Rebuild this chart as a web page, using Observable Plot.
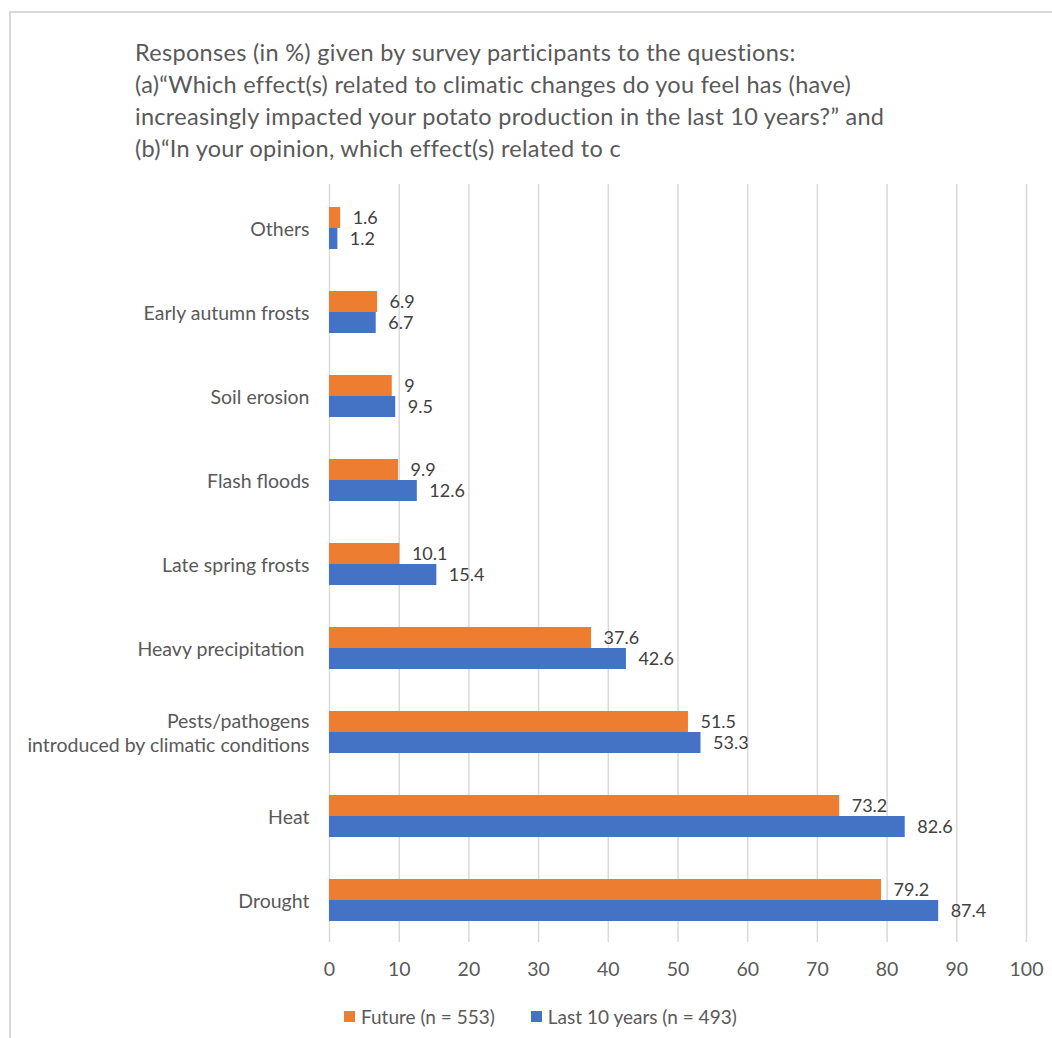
<!DOCTYPE html>
<html>
<head>
<meta charset="utf-8">
<script src="https://cdn.jsdelivr.net/npm/d3@7"></script>
<script src="https://cdn.jsdelivr.net/npm/@observablehq/plot@0.6"></script>
<style>
  html, body { margin: 0; padding: 0; background: #fff; }
  body { width: 1052px; height: 1038px; position: relative; overflow: hidden; font-family: Lato, "Open Sans", sans-serif; }
  #frame { position: absolute; left: 9px; top: 11px; width: 1100px; height: 1100px; border: 2px solid #d9d9d9; box-sizing: border-box; }
  #title { position: absolute; left: 135px; top: 36px; font-size: 23.5px; letter-spacing: 0.3px; line-height: 32px; color: #595959; white-space: pre; }
  #chart { position: absolute; left: 0; top: 170px; }
  #legend { position: absolute; left: 344px; top: 1005px; font-size: 19px; color: #595959; display: flex; gap: 36px; }
  #legend .item { display: flex; align-items: center; gap: 6px; }
  #legend .sw { width: 11px; height: 11px; display: inline-block; }
</style>
</head>
<body>
<div id="frame"></div>
<div id="title"></div>
<div id="chart"></div>
<div id="legend"></div>
<script>
const titleLines = [
  "Responses (in %) given by survey participants to the questions:",
  "(a)\u201CWhich effect(s) related to climatic changes do you feel has (have)",
  "increasingly impacted your potato production in the last 10 years?\u201D and",
  "(b)\u201CIn your opinion, which effect(s) related to c"
];
const categories = [
  "Others",
  "Early autumn frosts",
  "Soil erosion",
  "Flash floods",
  "Late spring frosts",
  "Heavy precipitation ",
  "Pests/pathogens\nintroduced by climatic conditions",
  "Heat",
  "Drought"
];
const future = [1.6, 6.9, 9, 9.9, 10.1, 37.6, 51.5, 73.2, 79.2];
const last10 = [1.2, 6.7, 9.5, 12.6, 15.4, 42.6, 53.3, 82.6, 87.4];
const seriesNames = ["Future (n = 553)", "Last 10 years (n = 493)"];
const seriesColors = ["#ED7D31", "#4472C4"];
const xTicks = [0, 10, 20, 30, 40, 50, 60, 70, 80, 90, 100];

document.getElementById("title").textContent = titleLines.join("\n");

const rows = categories.map((c, i) => ({category: c, future: future[i], last10: last10[i]}));

const textColor = "#595959";
const chart = Plot.plot({
  width: 1052,
  height: 820,
  marginLeft: 329,
  marginRight: 26,
  marginTop: 16,
  marginBottom: 48,
  style: {fontFamily: "Lato, 'Open Sans', sans-serif", fontSize: "19px", color: textColor, background: "transparent"},
  x: {domain: [0, 100], ticks: xTicks},
  y: {domain: categories, paddingInner: 0.5, paddingOuter: 0.25, label: null},
  marks: [
    Plot.gridX(xTicks, {stroke: "#d9d9d9", strokeOpacity: 1, strokeWidth: 1.5, insetTop: -2}),
    Plot.axisX(xTicks, {tickSize: 0, tickPadding: 20, label: null, fontSize: 19.5, fill: textColor}),
    Plot.axisY({tickSize: 0, tickPadding: 20, label: null, fontSize: 19.5, fill: textColor, lineHeight: 1.25}),
    Plot.barX(rows, {x: "future", y: "category", fill: seriesColors[0], insetBottom: 21}),
    Plot.barX(rows, {x: "last10", y: "category", fill: seriesColors[1], insetTop: 21}),
    Plot.text(rows, {x: "future", y: "category", text: d => String(d.future), dy: -10.5, dx: 12, textAnchor: "start", fill: "#404040", fontSize: 18}),
    Plot.text(rows, {x: "last10", y: "category", text: d => String(d.last10), dy: 10.5, dx: 12, textAnchor: "start", fill: "#404040", fontSize: 18})
  ]
});
document.getElementById("chart").appendChild(chart);

const legend = document.getElementById("legend");
seriesNames.forEach((name, i) => {
  const item = document.createElement("div");
  item.className = "item";
  const sw = document.createElement("span");
  sw.className = "sw";
  sw.style.background = seriesColors[i];
  const t = document.createElement("span");
  t.textContent = name;
  item.appendChild(sw);
  item.appendChild(t);
  legend.appendChild(item);
});
</script>
</body>
</html>
